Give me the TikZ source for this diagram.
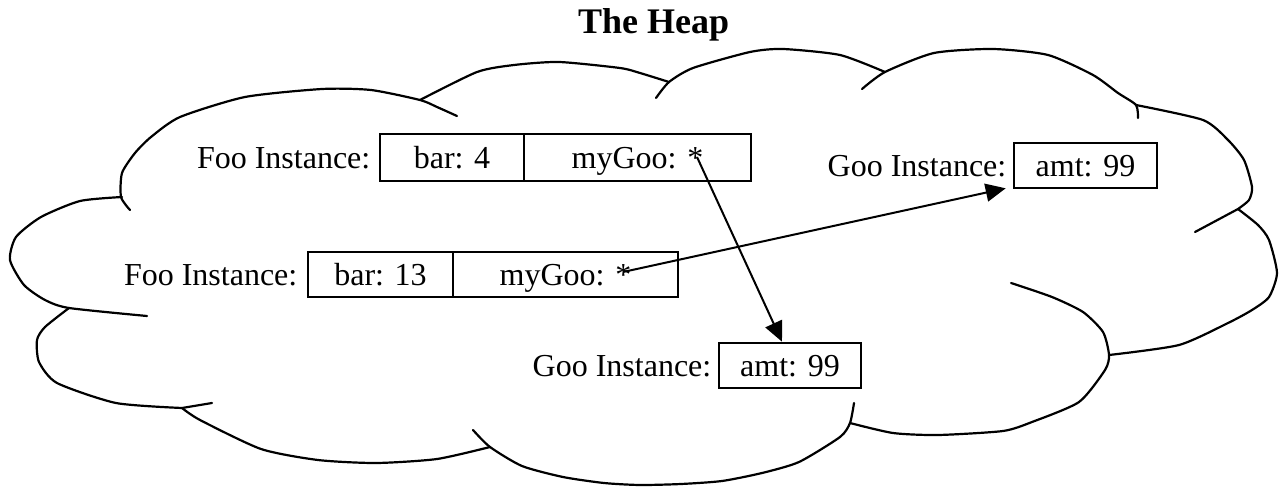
\documentclass[tikz,border=0pt]{standalone}
\usepackage{fontspec}
\setmainfont{Liberation Serif}
\usetikzlibrary{arrows.meta,calc}

\begin{document}
\begin{tikzpicture}[x=0.5pt,y=-0.5pt,
  cloudline/.style={line width=1.1pt, line join=round, line cap=round},
  lobe/.style={cloudline, smooth, tension=0.4},
  field/.style={draw, line width=1.3pt, inner sep=0pt, anchor=center,
    text height=10.6pt, text depth=0pt, font=\fontsize{16}{19}\selectfont},
  tag/.style={anchor=base east, inner sep=0pt, font=\fontsize{16}{19}\selectfont},
  ptr/.style={-{Triangle[length=10pt,width=9pt]}, line width=1pt}]

\useasboundingbox (0,0) rectangle (1279,487);

% title
\node[anchor=base, inner sep=0pt, font=\fontsize{18}{22}\selectfont\bfseries] (title) at (653.5,33) {The Heap};

% cloud outline, lobe by lobe
\draw[lobe] plot coordinates {(130,210) (121,197) (122,173) (135,153) (151,137) (180,117) (245,97) (322,89) (371,90) (420,100) (437,107) (457,116)};
\draw[lobe] plot coordinates {(420,100) (477,72) (514,65) (559,62) (620,68) (640,73) (669,82)};
\draw[lobe] plot coordinates {(656,98) (669,82) (693,68) (750,52) (783,49) (840,55) (885,72)};
\draw[lobe] plot coordinates {(862,89) (885,72) (934,53) (993,49) (1048,55) (1093,75) (1118,93) (1136,105) (1138,118)};
\draw[lobe] plot coordinates {(1136,105) (1203,120) (1228,140) (1244,160) (1252,187) (1249,200) (1238,209)};
\draw[cloudline] (1238,209) -- (1195,232);
\draw[lobe] plot coordinates {(1238,209) (1258,225) (1269,240) (1277,273) (1269,297) (1252,310) (1228,323) (1179,345) (1109,355)};
\draw[lobe] plot coordinates {(1011,283) (1052,297) (1083,312) (1103,332) (1109,355) (1105,370) (1079,402) (1032,422) (1003,431) (938,435) (893,433) (850,423)};
\draw[lobe] plot coordinates {(854,403) (850,423) (840,437) (799,462) (762,473) (722,481) (681,484) (640,485) (604,483) (563,477) (522,466) (490,447) (473,430)};
\draw[lobe] plot coordinates {(490,447) (437,459) (376,463) (318,460) (261,449) (200,420) (182,408)};
\draw[lobe] plot coordinates {(69,308) (45,327) (37,340) (39,362) (57,383) (116,403) (182,408)};
\draw[cloudline] (182,408) -- (212,403);
\draw[lobe] plot coordinates {(122,197) (80,201) (41,217) (16,237) (10,260) (24,285) (45,300) (69,308) (147,316)};

% first Foo instance
\node[field, minimum width=72pt, minimum height=23.5pt] (bar1) at (452,157.5) {bar: 4};
\node[field, minimum width=113.5pt, minimum height=23.5pt] (goo1) at (637.5,157.5) {myGoo: *};
\node[tag] (foo1) at ($(bar1.base west)+(-8,0)$) {Foo Instance:};

% second Foo instance
\node[field, minimum width=72.5pt, minimum height=22.5pt] (bar2) at (380.5,274.5) {bar: 13};
\node[field, minimum width=112.5pt, minimum height=22.5pt] (goo2) at (565.5,274.5) {myGoo: *};
\node[tag] (foo2) at ($(bar2.base west)+(-9,0)$) {Foo Instance:};

% Goo instances
\node[field, minimum width=71.5pt, minimum height=22.5pt] (amtA) at (1085.5,165.5) {amt: 99};
\node[tag] (gooA) at ($(amtA.base west)+(-6,0)$) {Goo Instance:};
\node[field, minimum width=71pt, minimum height=22.5pt] (amtB) at (790,365.5) {amt: 99};
\node[tag] (gooB) at ($(amtB.base west)+(-6,0)$) {Goo Instance:};

% pointers
\coordinate (star1) at (697,157);
\coordinate (star2) at (623,272);
\coordinate (endB) at ($(amtB.north)+(-8,0)$);
\coordinate (endA) at ($(amtA.south west)+(-7,-1)$);
\draw[ptr] (star1) -- (endB);
\draw[ptr] (star2) -- (endA);

\end{tikzpicture}
\end{document}
